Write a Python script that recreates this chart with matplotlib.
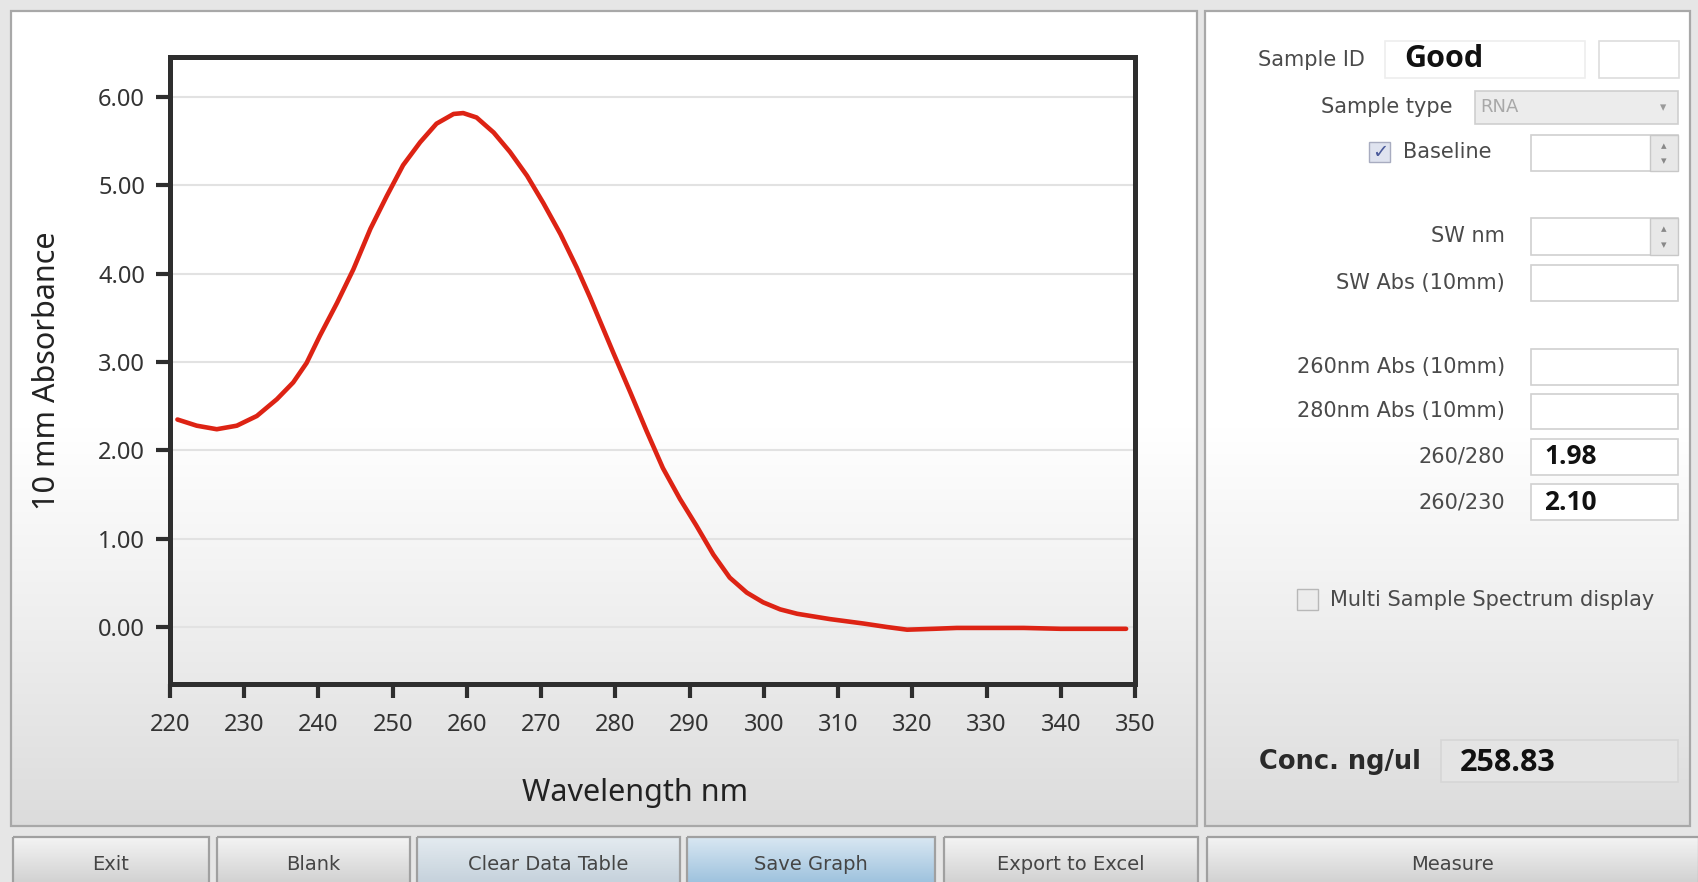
import numpy as np
import matplotlib
matplotlib.use("Agg")
import matplotlib.pyplot as plt
from matplotlib.patches import Rectangle

# spectrum (nm, 10 mm absorbance)
wavelength = [221.0, 223.6, 226.3, 229.0, 231.7, 234.4, 236.6, 238.4, 240.2, 242.5,
              244.7, 247.0, 249.2, 251.4, 253.7, 255.9, 258.2, 259.5, 261.3, 263.6,
              265.8, 268.1, 270.3, 272.6, 274.8, 276.6, 279.7, 282.0, 284.2, 286.4,
              288.7, 290.9, 293.2, 295.4, 297.7, 299.9, 302.2, 304.5, 308.9, 313.4,
              316.6, 319.3, 322.9, 326.0, 330.0, 335.0, 340.0, 345.0, 348.8]
absorbance = [2.35, 2.28, 2.24, 2.28, 2.39, 2.58, 2.77, 2.99, 3.30, 3.67,
              4.05, 4.51, 4.88, 5.23, 5.49, 5.70, 5.81, 5.82, 5.77, 5.60,
              5.38, 5.11, 4.80, 4.45, 4.07, 3.73, 3.11, 2.66, 2.22, 1.80,
              1.45, 1.15, 0.82, 0.56, 0.39, 0.28, 0.20, 0.15, 0.09, 0.04,
              0.00, -0.03, -0.02, -0.01, -0.01, -0.01, -0.02, -0.02, -0.02]

x_ticks = [220, 230, 240, 250, 260, 270, 280, 290, 300, 310, 320, 330, 340, 350]
y_ticks = [0, 1, 2, 3, 4, 5, 6]

# side panel fields
field_labels = ["SW nm", "SW Abs (10mm)", "260nm Abs (10mm)", "280nm Abs (10mm)", "260/280", "260/230"]
field_values = ["", "", "", "", "1.98", "2.10"]
sample_id = "Good"
sample_type = "RNA"
conc_value = "258.83"
buttons = ["Exit", "Blank", "Clear Data Table", "Save Graph", "Export to Excel", "Measure"]

W, H = 1699, 882
fig = plt.figure(figsize=(W / 100, H / 100), dpi=100)

# background layer in pixel coords
bg = fig.add_axes([0, 0, 1, 1])
bg.axis("off")
bg.add_patch(Rectangle((0, 0), W, H, facecolor="#e6e6e6", edgecolor="none", zorder=0))


def vgrad(y0, y1):
    ys = np.linspace(y0, y1, 300)
    v = np.interp(ys, [0, 430, 640, 830, 882], [1.0, 1.0, 0.93, 0.86, 0.84])
    return np.repeat(v[:, None, None], 3, axis=2)


def panel(x0, y0, x1, y1):
    bg.imshow(vgrad(y0, y1), extent=(x0, x1, y1, y0), aspect="auto", zorder=1)
    bg.add_patch(Rectangle((x0, y0), x1 - x0, y1 - y0, facecolor="none",
                           edgecolor="#a8a8a8", lw=1.6, zorder=2))


panel(11, 11, 1197, 826)
panel(1205, 11, 1690, 826)

# buttons along the bottom
btn_x = [(13, 209), (217, 410), (417, 680), (687, 935), (944, 1198), (1207, 1699)]
btn_col = [("#f4f4f4", "#d2d2d2"), ("#f4f4f4", "#d2d2d2"), ("#e4ebf0", "#c6d2dc"),
           ("#d9e7f2", "#9fc3de"), ("#f4f4f4", "#d2d2d2"), ("#f4f4f4", "#d2d2d2")]
for (bx0, bx1), (c0, c1), name in zip(btn_x, btn_col, buttons):
    ca = np.array(matplotlib.colors.to_rgb(c0))
    cb = np.array(matplotlib.colors.to_rgb(c1))
    t = np.linspace(0, 1, 100)[:, None]
    img = (ca * (1 - t) + cb * t)[:, None, :]
    bg.imshow(img, extent=(bx0, bx1, 882, 837), aspect="auto", zorder=2)
    bg.add_patch(Rectangle((bx0, 837), bx1 - bx0, 60, facecolor="none",
                           edgecolor="#a0a0a0", lw=1.6, zorder=3))
    bg.text((bx0 + bx1) / 2, 864, name, ha="center", va="center", fontsize=14,
            family="DejaVu Sans", color="#454545", zorder=4)


def box(x0, y0, x1, y1, fc="white", ec="#d0d0d0"):
    bg.add_patch(Rectangle((x0, y0), x1 - x0, y1 - y0, facecolor=fc, edgecolor=ec, lw=1.2, zorder=3))


def spin(x1, y0, y1):
    bg.add_patch(Rectangle((x1 - 28, y0), 28, y1 - y0, facecolor="#e8e8e8",
                           edgecolor="#c8c8c8", lw=1.0, zorder=4))
    bg.text(x1 - 14, y0 + (y1 - y0) * 0.3, "\u25b4", ha="center", va="center", fontsize=8,
            color="#888888", zorder=5)
    bg.text(x1 - 14, y0 + (y1 - y0) * 0.72, "\u25be", ha="center", va="center", fontsize=8,
            color="#888888", zorder=5)


lab = dict(family="DejaVu Sans", fontsize=15, color="#4a4a4a", va="center", zorder=5)

# sample id / type / baseline
bg.text(1365, 60, "Sample ID", ha="right", **lab)
box(1385, 41, 1585, 78, ec="#eeeeee")
box(1599, 41, 1679, 78, ec="#dddddd")
bg.text(1404, 59, sample_id, ha="left", va="center", fontsize=22, fontweight="bold",
        family="Open Sans", color="#111111", zorder=5)

bg.text(1453, 107, "Sample type", ha="right", **lab)
box(1475, 91, 1678, 124, fc="#ececec", ec="#cfcfcf")
bg.text(1480, 107, sample_type, ha="left", va="center", fontsize=13, family="DejaVu Sans",
        color="#a8a8a8", zorder=5)
bg.text(1663, 108, "\u25be", ha="center", va="center", fontsize=9, color="#9a9a9a", zorder=5)

bg.add_patch(Rectangle((1369, 142), 21, 20, facecolor="#dfe3ef", edgecolor="#a8acc0", lw=1.0, zorder=4))
bg.text(1380, 152, "\u2713", ha="center", va="center", fontsize=14, color="#4a5a9a",
        family="DejaVu Sans", zorder=5)
bg.text(1403, 152, "Baseline", ha="left", **lab)
box(1531, 135, 1678, 171)
spin(1678, 135, 171)

# measurement fields
field_y = [(218, 255), (265, 301), (349, 385), (394, 429), (439, 475), (484, 520)]
for (fy0, fy1), name, val in zip(field_y, field_labels, field_values):
    yc = (fy0 + fy1) / 2
    bg.text(1505, yc, name, ha="right", **lab)
    box(1531, fy0, 1678, fy1)
    if val:
        bg.text(1544, yc, val, ha="left", va="center", fontsize=19, fontweight="bold",
                family="Open Sans", color="#111111", zorder=5)
spin(1678, 218, 255)

bg.add_patch(Rectangle((1297, 589), 21, 21, facecolor="#ececec", edgecolor="#b8b8b8", lw=1.0, zorder=4))
bg.text(1330, 600, "Multi Sample Spectrum display", ha="left", **lab)

bg.text(1259, 762, "Conc. ng/ul", ha="left", va="center", fontsize=18.5, fontweight="bold",
        family="DejaVu Sans", color="#2a2a2a", zorder=5)
box(1441, 740, 1678, 782, fc="#e4e4e4", ec="#d6d6d6")
bg.text(1460, 763, conc_value, ha="left", va="center", fontsize=22, fontweight="bold",
        family="Open Sans", color="#111111", zorder=5)

bg.set_xlim(0, W)
bg.set_ylim(H, 0)

# the spectrum plot
ax = fig.add_axes([170 / W, 1 - 684 / H, 965 / W, 627 / H])
ax.set_facecolor("none")
ax.plot(wavelength, absorbance, color="#dd2314", lw=3.3, solid_capstyle="round",
        solid_joinstyle="round", zorder=3)
ax.set_xlim(220, 350)
ax.set_ylim(-0.645, 6.455)
ax.set_xticks(x_ticks)
ax.set_yticks(y_ticks)
ax.set_xticklabels([str(v) for v in x_ticks])
ax.set_yticklabels(["%.2f" % v for v in y_ticks])
ax.grid(axis="y", color="#e2e2e2", lw=1.5)
ax.set_axisbelow(True)
for sp in ax.spines.values():
    sp.set_linewidth(3.6)
    sp.set_color("#2e2e2e")
ax.tick_params(direction="out", length=10, width=3, color="#2e2e2e",
               labelsize=17, labelcolor="#333333")
ax.tick_params(axis="y", pad=8)
ax.tick_params(axis="x", pad=11)
for lbl in ax.get_xticklabels() + ax.get_yticklabels():
    lbl.set_family("Noto Sans")
ax.set_xlabel("Wavelength nm", fontsize=22, family="Noto Sans", color="#222222")
ax.set_ylabel("10 mm Absorbance", fontsize=22, family="Noto Sans", color="#222222")
ax.xaxis.set_label_coords(0.482, -0.150)
ax.yaxis.set_label_coords(-0.112, 0.5)

fig.savefig("out.png", dpi=100)
